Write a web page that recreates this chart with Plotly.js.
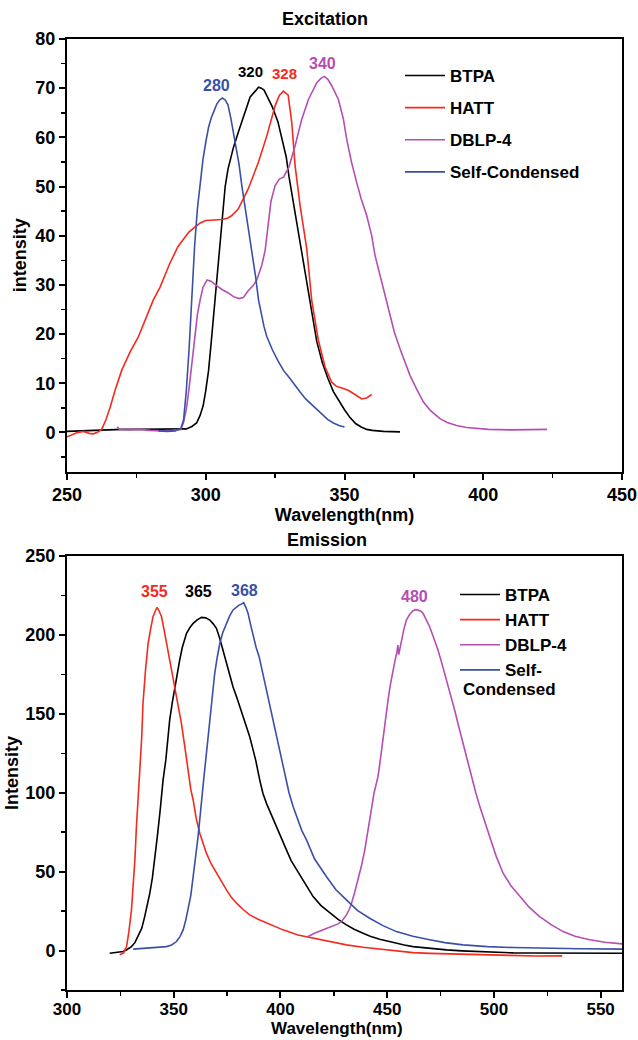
<!DOCTYPE html>
<html>
<head>
<meta charset="utf-8">
<script src="https://cdn.plot.ly/plotly-3.0.1.min.js"></script>
<style>html,body{margin:0;padding:0;background:#fff;}#chart{width:638px;height:1040px;}</style>
</head>
<body>
<div id="chart"></div>
<script>
// ---------- Data ----------
const seriesNames = ["BTPA", "HATT", "DBLP-4", "Self-Condensed"];
const seriesColors = ["#000000", "#f42a1e", "#b64db3", "#3a50a6"];

// Excitation spectra
const exBTPA_x = [250,255,260,265,270,275,280,285,290,293,295,296.7,298,299.1,300,301,302,303,304,305,306,307,308,309,310,312,314,316,318,319,320,321,322,324,326,328,329,330,332,334,336,338,340,342,344,346,348,350,352,354,356,358,360,364,370];
const exBTPA_y = [0.2,0.3,0.5,0.6,0.6,0.6,0.6,0.6,0.6,0.7,1.2,1.9,3.5,5.5,8.5,12.5,18.5,25,31.5,38.5,44.5,50,53.5,56,58,61.5,65,68.2,69.5,70.2,70,69.6,68.5,66.2,63.2,58.8,56,52,45.3,38.3,31.5,24.5,18.5,14.2,11,8.3,6.3,4.6,3,1.8,1.1,0.6,0.4,0.2,0.1];

const exHATT_x = [250,252,254,256,258,259.5,261,262.5,264,265.5,267.3,269.7,272.7,275.7,278.7,281,283.5,287,290,292,294,296,298,300,303,306,308,309.4,311.7,313.5,315.3,317,319,322,325,326.5,328,329.7,331,332.2,334,336.4,338.2,340.6,343,345.4,347,349.6,351.5,353.2,355,356.2,358,359.8];
const exHATT_y = [-0.9,-0.5,0,0.2,-0.2,-0.3,0,0.6,2.5,5,8.5,12.6,16.3,19.4,23.4,26.8,29.5,34.3,37.8,39.4,40.8,41.7,42.6,43.1,43.2,43.3,43.6,44.1,45.4,47.3,49.5,52,55,60.3,66.4,68.5,69.4,68.6,63,54.2,46.1,37.3,26.8,18.7,13.3,10.2,9.4,8.9,8.5,7.9,7.2,6.8,7,7.7];

const exDBLP_x = [268,269,272,276,280,284,288,291,292,293.1,294,294.9,296,297,298,299,300.5,302,304,306,308,310,312,313.5,315.3,317,318.3,320.2,321.4,322.5,323.5,325,326.5,328,330,332.2,334.6,337,340,341.5,342.7,344,345.4,347.8,349.6,350.8,352.5,354.4,356,358,359.8,361,362.8,364.5,366.4,368,370,371.8,373.6,376,378.4,381,384.4,387,390.4,394,397.6,402,410,416,423];
const exDBLP_y = [1.1,0.6,0.5,0.6,0.4,0.3,0.4,0.6,2,5.1,9,13.3,19.5,24,27,29.5,31,30.7,29.8,29,28.4,27.6,27.2,27.4,28.8,29.8,30.9,34,37,43,47,50.2,51.5,51.9,54,58.3,63.7,67.7,71.1,72,72.4,71.8,70.5,67.7,63.7,59.6,55,50.8,47.5,44.1,40,36,31.9,28,23.8,20.3,17,14.2,11.6,8.8,6.2,4.4,2.8,2,1.4,1,0.8,0.6,0.5,0.5,0.6];

const exSelf_x = [283,286,289,291,292,293,294,295,296,297,298,299,300,301,302,303,304,305,306,307,308,309,310,311,312,313,314,315,316,317,318,319,320,321,322,324,326,328,330,332,334,336,338,340,342,344,346,348,350];
const exSelf_y = [0.3,0.2,0.3,0.8,2.5,8.5,17,28,38,45.5,51,55.5,59,62,64,65.5,66.8,67.6,68,67.6,66.6,64,61,58,54.5,50.2,46.5,42.5,39.5,36,31.5,27,24,21.5,19.5,16.8,14.6,12.6,11.2,9.6,8.2,6.8,5.7,4.6,3.5,2.6,1.9,1.4,1.1];

// Emission spectra
const emBTPA_x = [320,323,326.3,328,330.2,331.8,333.3,335,336.4,337.6,338.8,340,341.1,342.3,343.5,345,346.3,347,348.1,349.3,350.5,352.8,354,356,357.5,359.1,361,363,365,366.9,368.5,370,371.5,373.1,374.7,376.3,377.8,379.4,381,382.5,384,385.6,387.2,388.5,390.3,391.8,393.4,395.5,398.1,400.5,402.8,405,408,411,415.3,419,423.1,427,430.9,434.5,438.7,442,446.5,452,458,462.1,470,477.8,485,493.4,501,509,517,524.6,540,560];
const emBTPA_y = [-1.7,-1.4,-0.6,0.5,2.5,5,8.9,14,21.5,28,36.4,46,57.4,72,87,108,120.8,133,146,157,167.2,184.1,192,201,204.5,207.3,209.5,211.1,210.8,209.4,207,204.2,198,190.4,182,173.5,167,160.9,154.5,148.2,142,135.5,127,120,108,99.5,93.4,86.5,78.5,71,63.8,57,50.5,44,34.2,28.5,23.7,19.7,16.3,13.5,11,9,7.2,5.2,3.5,2.5,1.3,0.4,-0.2,-0.8,-1.2,-1.5,-1.6,-1.7,-1.7,-1.7];

const emHATT_x = [324.7,326.5,327.9,329,330.2,331,331.8,332.5,333.3,334.1,335,335.6,336.8,338,339.2,340.3,341.3,342.2,343.2,344.3,345.5,346.6,348.9,351.3,353.6,355,356.7,358,359.1,360.5,362.2,363.8,365.3,367.5,370,372.3,374.7,377,379.4,382.5,385.6,389.5,393.4,397,401.2,408.2,415.3,423,430.9,438.7,446.5,454,462.1,470,477.8,485.5,493.4,501,509,520,532];
const emHATT_y = [-2.7,-1.5,2.5,12,25.8,40,57.4,78,99.7,114.4,135,156.7,178,194.7,204,211.5,215,217.5,215,211.5,203,194.7,179.9,160.9,144,131,114.4,102,95.4,84,74.3,67,61.7,55,49,43.5,38.4,33.7,30,26,22.6,19.8,17.4,15.2,13.1,9.9,7.9,5.5,3.6,2.1,0.9,-0.3,-1.3,-1.8,-2.1,-2.6,-2.9,-3.2,-3.4,-3.5,-3.4];

const emDBLP_x = [412.9,416,420,424,427,429,430.9,432.2,433.3,434.8,436.4,438,439.5,440.7,441.8,442.8,443.8,445,445.7,447,448.1,449.3,450.4,451.5,452.7,453.7,454.6,455,455.4,456.7,457.8,459,460.5,462.1,463.5,464.5,465.7,466.8,468.3,469.9,471.8,473.8,475.8,477.8,479.7,481.6,483.5,485.5,487.5,489.5,491.5,493.4,495.7,498,501,504.3,508,512.1,516.5,521.4,527,532.4,538,544.9,552,560];
const emDBLP_y = [8.9,11,13.1,15.2,16.9,19,22.6,26,30,37,44.8,54,63.8,73,82.8,91,99.7,106,110.2,123,135.5,147,158.8,168.5,177.8,184,189.4,193.5,187.5,196.8,203.5,209.4,213,215.3,216,215.8,215,213.7,210,205.2,198,190.4,181,171.4,162,152.4,142,131.3,120.5,110.2,100,91.2,81,72.2,60,49,41,34.2,27.5,21.5,16.3,12,9,6.8,5.3,4.2];

const emSelf_x = [331,335,338.8,342,346.6,349,351.3,353,354.4,355.6,356.7,358,359.1,360.3,361.4,362.2,363,364,365,366,366.9,368,369.2,370.4,371.6,373,374.7,376.2,377.8,379.2,380.6,381.7,382.8,383.8,384.8,386,387.2,388.6,390,392,394,396,398,400,402,404,406,408,410,412.2,416,421.5,426,430.9,436,441.8,448,454.3,462,469.9,477,485.5,497,509,525,540,560];
const emSelf_y = [0.9,1.2,1.5,1.8,2.5,3.5,5.7,9,13.1,19,25.8,35,46.9,59,72.2,83,95.4,108,120.8,134,146.1,161,175.7,186,194.7,201.5,207.3,212,215.8,217.5,218.9,219.5,220.4,217.5,213.7,206.5,198.9,192,186.2,174,162,148,136,124,112,100,91,83,76,70.1,58,46.9,38.5,32.1,25.5,20.5,15.8,12,9,6.8,5,3.6,2.5,1.9,1.4,1.1,0.9];

// Peak labels
const exPeakText = ["280", "320", "328", "340"];
const exPeakX = [304.0, 316.1, 328.4, 342.2];
const exPeakY = [70.6, 73.3, 73.0, 75.0];
const exPeakColor = ["#3a50a6", "#000000", "#f42a1e", "#b64db3"];
const exPeakSize = [16, 15, 15, 16];

const emPeakText = ["355", "365", "368", "480"];
const emPeakX = [341.1, 361.7, 383.0, 462.8];
const emPeakY = [227.8, 227.2, 228.4, 224.5];
const emPeakColor = ["#f42a1e", "#000000", "#3a50a6", "#b64db3"];

// Axis ranges
const exXRange = [250, 450];
const exYRange = [-8, 80];
const emXRange = [300, 560];
const emYRange = [-25, 250];

// ---------- Build chart ----------
const FONT = "Liberation Sans, Arial, Helvetica, sans-serif";
const exX = [exBTPA_x, exHATT_x, exDBLP_x, exSelf_x];
const exY = [exBTPA_y, exHATT_y, exDBLP_y, exSelf_y];
const emX = [emBTPA_x, emHATT_x, emDBLP_x, emSelf_x];
const emY = [emBTPA_y, emHATT_y, emDBLP_y, emSelf_y];
const emLegendNames = ["BTPA", "HATT", "DBLP-4", "Self-"];

const traces = [];
for (let i = 0; i < 4; i++) {
  traces.push({
    type: "scatter", mode: "lines", x: exX[i], y: exY[i], xaxis: "x", yaxis: "y",
    name: seriesNames[i], legend: "legend", legendgroup: "ex" + i,
    line: {color: seriesColors[i], width: 1.6}, hoverinfo: "skip"
  });
}
for (let i = 0; i < 4; i++) {
  traces.push({
    type: "scatter", mode: "lines", x: emX[i], y: emY[i], xaxis: "x2", yaxis: "y2",
    name: emLegendNames[i], legend: "legend2", legendgroup: "em" + i,
    line: {color: seriesColors[i], width: 1.6}, hoverinfo: "skip"
  });
}

const tickFont = {family: FONT, size: 18, color: "#000", weight: "bold"};
const titleFont = {family: FONT, size: 18, color: "#000", weight: "bold"};
function axis(extra) {
  return Object.assign({
    showgrid: false, zeroline: false, showline: true, linecolor: "#000", linewidth: 2,
    mirror: true, ticks: "outside", ticklen: 6, tickwidth: 2, tickcolor: "#000",
    tickfont: tickFont, fixedrange: true
  }, extra);
}

const M = {l: 67, r: 16, t: 39, b: 50};
const H = 1040, PH = H - M.t - M.b, W = 638, PW = W - M.l - M.r;
const py = p => 1 - (p - M.t) / PH;
const px = p => (p - M.l) / PW;

const annotations = [];
annotations.push({text: "Excitation", xref: "paper", yref: "paper", x: px(325), y: py(19),
  showarrow: false, font: titleFont, xanchor: "center", yanchor: "middle"});
annotations.push({text: "Emission", xref: "paper", yref: "paper", x: px(327), y: py(540),
  showarrow: false, font: titleFont, xanchor: "center", yanchor: "middle"});
// bottom x-axis title (kept clear of the tick labels)
annotations.push({text: "Wavelength(nm)", xref: "paper", yref: "paper", x: px(337), y: py(1040),
  showarrow: false, xanchor: "center", yanchor: "bottom",
  font: {family: FONT, size: 17, color: "#000", weight: "bold"}});
for (let i = 0; i < exPeakText.length; i++) {
  annotations.push({text: exPeakText[i], xref: "x", yref: "y", x: exPeakX[i], y: exPeakY[i],
    showarrow: false, font: {family: FONT, size: exPeakSize[i], color: exPeakColor[i], weight: "bold"}});
}
for (let i = 0; i < emPeakText.length; i++) {
  annotations.push({text: emPeakText[i], xref: "x2", yref: "y2", x: emPeakX[i], y: emPeakY[i],
    showarrow: false, font: {family: FONT, size: 16, color: emPeakColor[i], weight: "bold"}});
}
annotations.push({text: "Condensed", xref: "paper", yref: "paper", x: px(461), y: py(689),
  showarrow: false, xanchor: "left", yanchor: "middle",
  font: {family: FONT, size: 17, color: "#000", weight: "bold"}});

const legendFont = {family: FONT, size: 17, color: "#000", weight: "bold"};

const layout = {
  width: W, height: H, margin: M, paper_bgcolor: "#fff", plot_bgcolor: "#fff",
  showlegend: true,
  xaxis: axis({domain: [0, 1], anchor: "y", range: exXRange, dtick: 50, tick0: 0,
    minor: {dtick: 25, ticks: "outside", ticklen: 4, tickwidth: 1.5, tickcolor: "#000"},
    title: {text: "Wavelength(nm)", font: titleFont, standoff: 0}}),
  yaxis: axis({domain: [py(471.7), 1], anchor: "x", range: exYRange, dtick: 10, tick0: 0,
    minor: {dtick: 5, ticks: "outside", ticklen: 4, tickwidth: 1.5, tickcolor: "#000"},
    title: {text: "intensity", font: titleFont, standoff: 4}}),
  xaxis2: axis({domain: [0, 1], anchor: "y2", range: emXRange, dtick: 50, tick0: 0,
    ticklabelstandoff: -3,
    tickfont: {family: FONT, size: 17, color: "#000", weight: "bold"},
    minor: {dtick: 25, ticks: "outside", ticklen: 4, tickwidth: 1.5, tickcolor: "#000"}}),
  yaxis2: axis({domain: [0, py(556)], anchor: "x2", range: emYRange, dtick: 50, tick0: 0,
    minor: {dtick: 25, ticks: "outside", ticklen: 4, tickwidth: 1.5, tickcolor: "#000"},
    title: {text: "Intensity", font: titleFont, standoff: 2}}),
  legend: {x: px(400), y: py(58), xanchor: "left", yanchor: "top", bgcolor: "rgba(0,0,0,0)",
    font: legendFont, tracegroupgap: 7, itemwidth: 40},
  legend2: {x: px(455), y: py(577), xanchor: "left", yanchor: "top", bgcolor: "rgba(0,0,0,0)",
    font: legendFont, tracegroupgap: 0, itemwidth: 40},
  annotations: annotations
};

Plotly.newPlot("chart", traces, layout, {staticPlot: true, displayModeBar: false});
</script>
</body>
</html>
